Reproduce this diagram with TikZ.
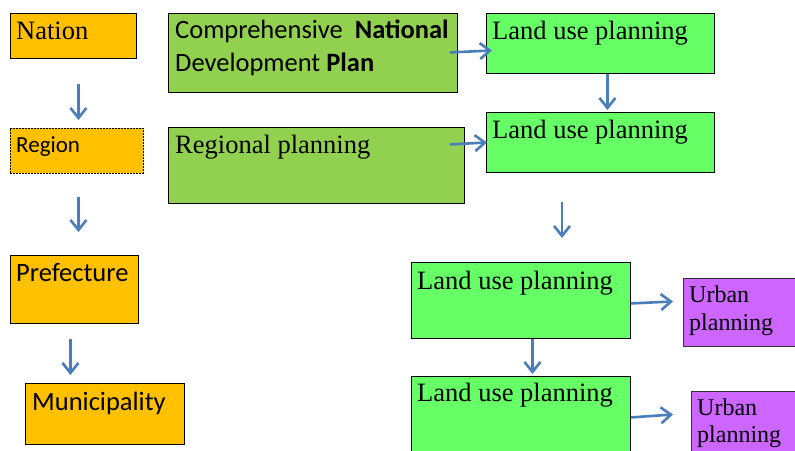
\documentclass[tikz,border=0pt]{standalone}
\usepackage{fontspec}
\setmainfont{Liberation Serif}
\newfontfamily\calib{Carlito}
\usetikzlibrary{arrows.meta}
\definecolor{orangebox}{HTML}{FFC000}
\definecolor{greenbox}{HTML}{92D050}
\definecolor{lightgreen}{HTML}{66FF66}
\definecolor{purplebox}{HTML}{CC66FF}
\definecolor{arrowblue}{HTML}{4A7EBB}
\tikzset{
  box/.style={draw=black, line width=0.9pt, inner sep=0pt, anchor=north west},
  orange/.style={box, fill=orangebox},
  green/.style={box, fill=greenbox},
  lgreen/.style={box, fill=lightgreen},
  purple/.style={box, fill=purplebox, draw=black!80},
  arr/.style={draw=arrowblue, line width=2.6pt, -{Straight Barb[length=10pt,width=16pt]}},
  lbl/.style={anchor=base west, inner sep=0pt, font=\fontsize{26.5}{33}\selectfont},
  slbl/.style={anchor=base west, inner sep=0pt, font=\calib\fontsize{26.5}{33}\selectfont},
}
\begin{document}
\begin{tikzpicture}[x=1pt,y=-1pt]
\useasboundingbox (0,0) rectangle (795,450);
\clip (0,0) rectangle (795,450);
\fill[white] (0,0) rectangle (795,450);
% left column
\node[orange, minimum width=126pt, minimum height=45pt] (nation) at (10,13) {};
\node[orange, minimum width=133pt, minimum height=45pt, dash pattern=on 2pt off 1pt] (region) at (10,128) {};
\node[orange, minimum width=128pt, minimum height=68pt] (pref) at (10,255) {};
\node[orange, minimum width=159pt, minimum height=61pt] (muni) at (25,383) {};
% middle
\node[green, minimum width=289pt, minimum height=79pt] (cndp) at (168,13) {};
\node[green, minimum width=296pt, minimum height=76pt] (regp) at (168,127) {};
% land use
\node[lgreen, minimum width=228pt, minimum height=60pt] (lup1) at (486,13) {};
\node[lgreen, minimum width=228pt, minimum height=60pt] (lup2) at (486,112) {};
\node[lgreen, minimum width=219pt, minimum height=76pt] (lup3) at (411,262) {};
\node[lgreen, minimum width=219pt, minimum height=90pt] (lup4) at (411,376) {};
% urban
\node[purple, minimum width=130pt, minimum height=68pt] (urb1) at (683,278) {};
\node[purple, minimum width=130pt, minimum height=70pt] (urb2) at (691,391) {};
% texts
\node[lbl] (tnation) at (16,39) {Nation};
\node[slbl, font=\calib\fontsize{23}{28}\selectfont] (tregion) at (16,152) {Region};
\node[slbl] (tpref) at (16,281) {Prefecture};
\node[slbl] (tmuni) at (32,410) {Municipality};
\node[slbl] (tcndp1) at (175,38) {Comprehensive\ \ \textbf{National}};
\node[slbl] (tcndp2) at (175,71) {Development \textbf{Plan}};
\node[lbl] (tregp) at (175,153) {Regional planning};
\node[lbl] (tlup1) at (492,39) {Land use planning};
\node[lbl] (tlup2) at (492,138) {Land use planning};
\node[lbl] (tlup3) at (417,289) {Land use planning};
\node[lbl] (tlup4) at (417,401) {Land use planning};
\node[lbl, font=\fontsize{24}{28}\selectfont] (turb1a) at (689,302) {Urban};
\node[lbl, font=\fontsize{24}{28}\selectfont] (turb1b) at (689,330) {planning};
\node[lbl, font=\fontsize{24}{28}\selectfont] (turb2a) at (697,415) {Urban};
\node[lbl, font=\fontsize{24}{28}\selectfont] (turb2b) at (697,442) {planning};
% arrows
\draw[arr] ([shift={(5,25)}]nation.south) -- ([shift={(1.5,-8)}]region.north);
\draw[arr] ([shift={(1.5,23)}]region.south) -- ([shift={(4,-23)}]pref.north);
\draw[arr] ([shift={(-4,15)}]pref.south) -- ([shift={(-34.5,-8)}]muni.north);
\draw[arr] ([shift={(-8,-0.5)}]cndp.east) -- ([shift={(6,7)}]lup1.west);
\draw[arr] ([shift={(-15,-21)}]regp.east) -- ([shift={(1,0)}]lup2.west);
\draw[arr] ([shift={(7,0)}]lup1.south) -- ([shift={(7,-2)}]lup2.north);
\coordinate (f1) at (562,202);
\coordinate (f2) at (562,238);
\draw[arr] (f1) -- (f2);
\draw[arr] ([shift={(11.5,0)}]lup3.south) -- ([shift={(11.5,-2)}]lup4.north);
\draw[arr] ([shift={(0,3)}]lup3.east) -- ([shift={(-10,-11)}]urb1.west);
\draw[arr] ([shift={(0,-4)}]lup4.east) -- ([shift={(-18,-12)}]urb2.west);
\end{tikzpicture}
\end{document}
